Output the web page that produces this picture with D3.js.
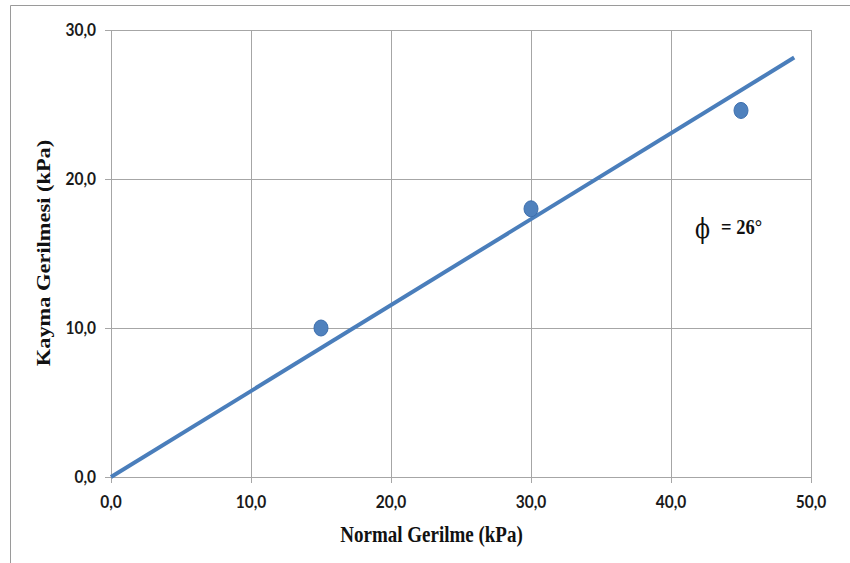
<!DOCTYPE html>
<html>
<head>
<meta charset="utf-8">
<script src="https://cdn.jsdelivr.net/npm/d3@7"></script>
<style>
  html, body { margin: 0; padding: 0; background: #fff; }
  svg { display: block; }
</style>
</head>
<body>
<svg id="chart" width="850" height="563"></svg>
<script>
// Direct shear test results: normal stress vs. shear stress (kPa)
const normalStress = [15, 30, 45];
const shearStress = [10.0, 18.0, 24.6];
// Failure envelope drawn through the origin
const envelopeX = [0, 48.8];
const envelopeY = [0, 28.15];
const xTicks = [0, 10, 20, 30, 40, 50];
const yTicks = [0, 10, 20, 30];
const xTitle = "Normal Gerilme (kPa)";
const yTitle = "Kayma Gerilmesi (kPa)";
const frictionLabel = "= 26°";

const svg = d3.select("#chart");
const fmt = d => d3.format(".1f")(d).replace(".", ",");

const x = d3.scaleLinear().domain([0, 50]).range([111, 811]);
const y = d3.scaleLinear().domain([0, 30]).range([477, 30]);

// outer frame (top and left edges)
svg.append("path")
  .attr("d", "M10.5,563 L10.5,5.5 L850,5.5")
  .attr("fill", "none").attr("stroke", "#9a9a9a").attr("stroke-width", 1);

const grid = svg.append("g");
// vertical gridlines with tick marks below the axis
grid.selectAll("line.vx").data(xTicks).join("line")
  .attr("x1", d => Math.round(x(d)) + 0.5).attr("x2", d => Math.round(x(d)) + 0.5)
  .attr("y1", y(30)).attr("y2", y(0) + 6)
  .attr("stroke", "#a6a6a6").attr("stroke-width", 1);
// horizontal gridlines with tick marks left of the axis
grid.selectAll("line.hy").data(yTicks).join("line")
  .attr("x1", x(0) - 6).attr("x2", x(50))
  .attr("y1", d => Math.round(y(d)) + 0.5).attr("y2", d => Math.round(y(d)) + 0.5)
  .attr("stroke", "#a6a6a6").attr("stroke-width", 1);

// tick labels
svg.append("g").selectAll("text").data(xTicks).join("text")
  .attr("transform", d => `translate(${x(d)},508) scale(1,1.1)`)
  .attr("text-anchor", "middle")
  .attr("font-family", "Lato, 'Open Sans', sans-serif")
  .attr("font-weight", "bold").attr("font-size", 15.5).attr("fill", "#1a1a1a")
  .text(fmt);
svg.append("g").selectAll("text").data(yTicks).join("text")
  .attr("transform", d => `translate(96,${y(d) + 6}) scale(1,1.1)`)
  .attr("text-anchor", "end")
  .attr("font-family", "Lato, 'Open Sans', sans-serif")
  .attr("font-weight", "bold").attr("font-size", 15.5).attr("fill", "#1a1a1a")
  .text(fmt);

// failure envelope
const line = d3.line().x(d => x(d[0])).y(d => y(d[1]));
svg.append("path")
  .datum(d3.zip(envelopeX, envelopeY))
  .attr("d", line)
  .attr("fill", "none").attr("stroke", "#4a7ebb").attr("stroke-width", 4);

// measured points
svg.append("g").selectAll("ellipse").data(d3.zip(normalStress, shearStress)).join("ellipse")
  .attr("cx", d => x(d[0])).attr("cy", d => y(d[1]))
  .attr("rx", 7).attr("ry", 8)
  .attr("fill", "#4f81bd").attr("stroke", "#3d6fae").attr("stroke-width", 1);

// axis titles
svg.append("text")
  .attr("transform", "translate(431.5,541.5) scale(1,1.18)")
  .attr("text-anchor", "middle")
  .attr("font-family", "'Liberation Serif', 'Times New Roman', serif")
  .attr("font-weight", "bold").attr("font-size", 19).attr("fill", "#111")
  .text(xTitle);
svg.append("text")
  .attr("transform", "translate(50,253) rotate(-90) scale(1.18,1)")
  .attr("text-anchor", "middle")
  .attr("font-family", "'Liberation Serif', 'Times New Roman', serif")
  .attr("font-weight", "bold").attr("font-size", 19).attr("fill", "#111")
  .text(yTitle);

// friction angle annotation
svg.append("text")
  .attr("transform", "translate(695,238) scale(1,1.25)")
  .attr("font-family", "'DejaVu Serif', 'Liberation Serif', serif")
  .attr("font-size", 22).attr("fill", "#111")
  .text("ϕ");
svg.append("text")
  .attr("transform", "translate(721,234) scale(1,1.15)")
  .attr("font-family", "'Liberation Serif', 'Times New Roman', serif")
  .attr("font-size", 18.5).attr("font-weight", "bold").attr("fill", "#111")
  .text(frictionLabel);
</script>
</body>
</html>
